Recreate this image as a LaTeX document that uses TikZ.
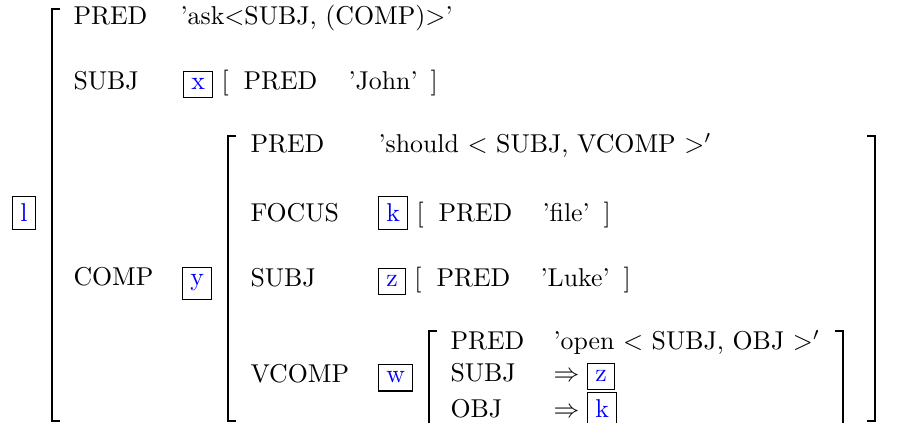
\documentclass[tikz,border=0pt]{standalone}
\usepackage{fontspec}
\usepackage{tikz}
\usetikzlibrary{calc}
\definecolor{tagblue}{HTML}{0000FF}

\begin{document}
\begin{tikzpicture}[x=0.3876pt, y=-0.3876pt,
    ATT/.style={inner sep=0pt, anchor=base west},
    TAG/.style={draw=black, line width=0.4pt, inner sep=3pt, anchor=base west, text=tagblue},
    BRK/.style={line width=0.7pt}
    ]
        \useasboundingbox (0,0) rectangle (898,423);
        \clip (0,0) rectangle (898,423);
        \node[TAG] (Tl) at (12,222) {l};
        \draw[BRK] (60,9) -| (52,421) -- (60,421);
        \node[ATT] (A1) at (73,25) {PRED};
        \node[ATT] (V1) at (180,25) {'ask<SUBJ, (COMP)>'};
        \node[ATT] (A2) at (73,90) {SUBJ};
        \node[TAG] (Tx) at (183,90) {x};
        \node[ATT] (L2) at ($(Tx.base east)+(8,0)$) {[};
        \node[ATT] (A3) at (243,90) {PRED};
        \node[ATT] (V3) at (348,90) {'John'};
        \node[ATT] (R2) at (430,90) {]};
        \node[ATT] (A4) at (73,286) {COMP};
        \node[TAG] (Ty) at (182,286) {y};
        \draw[BRK] (236,136) -| (228,421) -- (236,421);
        \draw[BRK] (867,136) -| (875,421) -- (867,421);
        \node[ATT] (A5) at (250,153) {PRED};
        \node[ATT] (V5) at (378,153) {'should $<$ SUBJ, VCOMP $>'$};
        \node[ATT] (A6) at (250,222) {FOCUS};
        \node[TAG] (Tk) at (378,222) {k};
        \node[ATT] (L6) at ($(Tk.base east)+(8,0)$) {[};
        \node[ATT] (A7) at (438,222) {PRED};
        \node[ATT] (V7) at (542,222) {'file'};
        \node[ATT] (R6) at (603,222) {]};
        \node[ATT] (A8) at (250,287) {SUBJ};
        \node[TAG] (Tz) at (378,287) {z};
        \node[ATT] (L8) at ($(Tz.base east)+(8,0)$) {[};
        \node[ATT] (A9) at (436,287) {PRED};
        \node[ATT] (V9) at (540,287) {'Luke'};
        \node[ATT] (R8) at (623,287) {]};
        \node[ATT] (A10) at (250,383) {VCOMP};
        \node[TAG] (Tw) at (378,383) {w};
        \draw[BRK] (437,331) -| (429,440);
        \draw[BRK] (835,331) -| (843,440);
        \node[ATT] (A11) at (450,350) {PRED};
        \node[ATT] (V11) at (553,350) {'open $<$ SUBJ, OBJ $>'$};
        \node[ATT] (A12) at (450,382) {SUBJ};
        \node[ATT] (I12) at (553,382) {$\Rightarrow$};
        \node[TAG] (Tz2) at (587,382) {z};
        \node[ATT] (A13) at (450,418) {OBJ};
        \node[ATT] (I13) at (553,418) {$\Rightarrow$};
        \node[TAG] (Tk2) at (587,418) {k};
    \end{tikzpicture}
\end{document}
